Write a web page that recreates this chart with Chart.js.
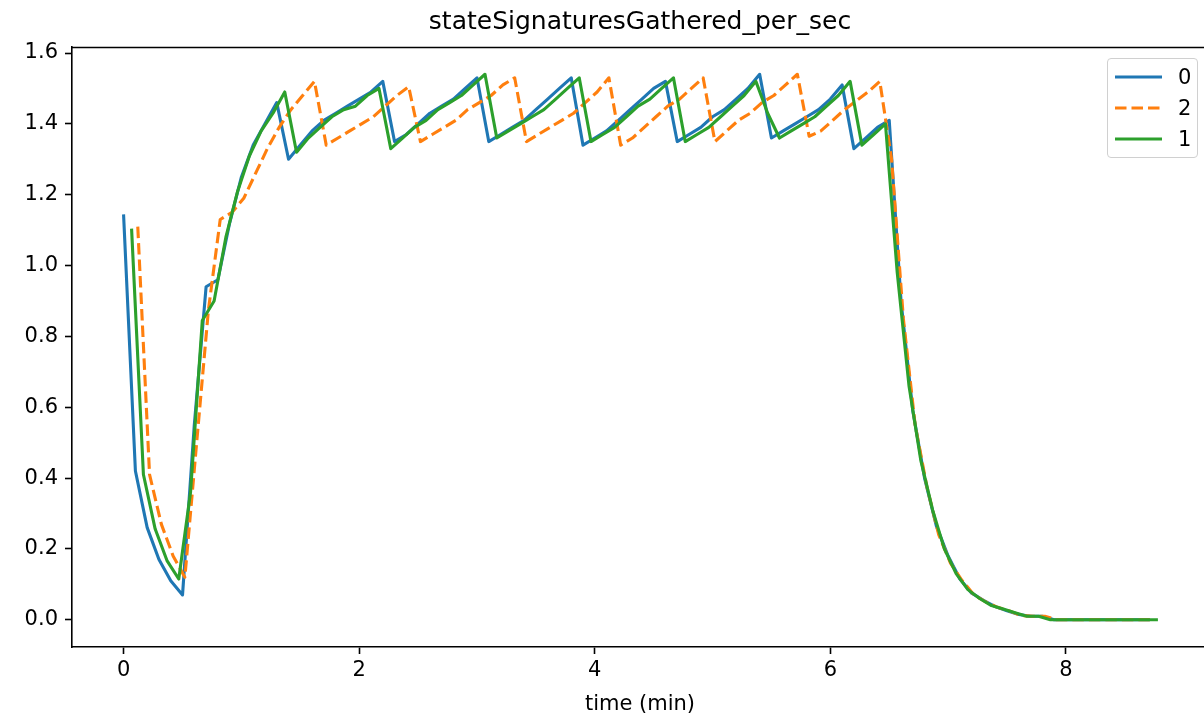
<!DOCTYPE html>
<html>
<head>
<meta charset="utf-8">
<script src="https://cdn.jsdelivr.net/npm/chart.js@4.4.0/dist/chart.umd.min.js"></script>
<style>
  html, body { margin: 0; padding: 0; background: #fff; overflow: hidden; width: 1204px; height: 717px; }
  #wrap { position: relative; width: 1212px; height: 717px; }
  #legend { position: absolute; left: 1107px; top: 58px; width: 89px; height: 98px;
            border: 1.7px solid #d0d0d0; border-radius: 4px; background: rgba(255,255,255,0.8);
            font-family: "DejaVu Sans", sans-serif; font-size: 21px; color: #000; }
  .item { position: absolute; left: 6px; height: 24px; width: 80px; }
  .item svg { position: absolute; left: 0; top: 0; }
  .item span { position: absolute; left: 64px; top: 0; line-height: 24px; }
</style>
</head>
<body>
<div id="wrap">
  <canvas id="c" width="1212" height="717"></canvas>
  <div id="legend"></div>
</div>
<script>
// ---- data (minutes; values per second) ----
const chartTitle = "stateSignaturesGathered_per_sec";
const xAxisLabel = "time (min)";
const xTickValues = [0, 2, 4, 6, 8];
const yTickValues = [0.0, 0.2, 0.4, 0.6, 0.8, 1.0, 1.2, 1.4, 1.6];
const sampleStep = 0.1;            // minutes between samples
const seriesLabels = ["0", "2", "1"];
const seriesStart = [0.0, 0.12, 0.068]; // first sample time of each series (min)

const series0 = [1.14,0.42,0.26,0.17,0.11,0.07,0.55,0.94,0.96,1.12,
 1.25,1.34,1.40,1.46,1.30,1.34,1.38,1.41,1.43,1.45,
 1.47,1.49,1.52,1.35,1.37,1.40,1.43,1.45,1.47,1.50,
 1.53,1.35,1.37,1.39,1.41,1.44,1.47,1.50,1.53,1.34,
 1.36,1.38,1.41,1.44,1.47,1.50,1.52,1.35,1.37,1.39,
 1.42,1.44,1.47,1.50,1.54,1.36,1.38,1.40,1.42,1.44,
 1.47,1.51,1.33,1.36,1.39,1.41,0.90,0.59,0.40,0.265,
 0.18,0.115,0.075,0.055,0.037,0.025,0.015,0.01,0.01,0,
 0,0,0,0,0,0,0,0];

const series2 = [1.11,0.41,0.27,0.18,0.12,0.50,0.875,1.13,1.15,1.19,
 1.26,1.33,1.39,1.44,1.48,1.52,1.34,1.36,1.38,1.40,
 1.42,1.45,1.48,1.505,1.35,1.37,1.39,1.41,1.44,1.46,
 1.48,1.51,1.53,1.35,1.37,1.39,1.41,1.43,1.46,1.49,
 1.53,1.34,1.36,1.39,1.42,1.45,1.47,1.50,1.53,1.35,
 1.38,1.41,1.43,1.46,1.48,1.51,1.54,1.365,1.38,1.41,
 1.44,1.465,1.49,1.52,1.30,0.85,0.55,0.375,0.24,0.16,
 0.11,0.07,0.05,0.035,0.025,0.012,0.01,0.01,0,0,
 0,0,0,0,0,0,0];

const series1 = [1.10,0.41,0.256,0.167,0.115,0.36,0.845,0.90,1.08,1.21,
 1.31,1.38,1.43,1.49,1.32,1.36,1.39,1.42,1.44,1.45,
 1.48,1.50,1.33,1.36,1.39,1.41,1.44,1.46,1.48,1.51,
 1.54,1.36,1.38,1.40,1.42,1.44,1.47,1.50,1.53,1.35,
 1.37,1.39,1.42,1.45,1.47,1.50,1.53,1.35,1.37,1.39,
 1.42,1.45,1.48,1.52,1.43,1.36,1.38,1.40,1.42,1.45,
 1.48,1.52,1.34,1.37,1.40,0.98,0.66,0.45,0.31,0.20,
 0.13,0.085,0.06,0.04,0.03,0.02,0.01,0.01,0,0,
 0,0,0,0,0,0,0,0];

const seriesValues = [series0, series2, series1];
const seriesColors = ["#1f77b4", "#ff7f0e", "#2ca02c"];
const seriesDash = [[], [11.5, 5], []];

// ---- build ----
const FONT = "DejaVu Sans";
const LW = 3.1;
const toPoints = (vals, start) => vals.map((v, i) => ({ x: start + i * sampleStep, y: v }));

const datasets = seriesValues.map((vals, s) => ({
  label: seriesLabels[s],
  data: toPoints(vals, seriesStart[s]),
  borderColor: seriesColors[s],
  backgroundColor: seriesColors[s],
  borderWidth: LW,
  borderDash: seriesDash[s],
  borderJoinStyle: 'round',
  borderCapStyle: seriesDash[s].length ? 'butt' : 'square',
  pointRadius: 0,
  tension: 0,
  fill: false,
  order: seriesValues.length - s   // later series drawn on top, like matplotlib
}));

const allX = datasets.flatMap(d => d.data.map(p => p.x));
const allY = datasets.flatMap(d => d.data.map(p => p.y));
const xMinD = Math.min(...allX), xMaxD = Math.max(...allX);
const yMinD = Math.min(...allY), yMaxD = Math.max(...allY);
const xm = 0.05 * (xMaxD - xMinD), ym = 0.05 * (yMaxD - yMinD);

const framePlugin = {
  id: 'frame',
  afterDraw(chart) {
    const { ctx, chartArea: a } = chart;
    ctx.save();
    ctx.strokeStyle = '#000';
    ctx.lineWidth = 1.6;
    ctx.beginPath();
    ctx.moveTo(a.left, a.top + 0.5); ctx.lineTo(a.right, a.top + 0.5);
    ctx.moveTo(a.right, a.top); ctx.lineTo(a.right, a.bottom);
    ctx.stroke();
    ctx.fillStyle = '#000';
    ctx.font = `25px "${FONT}"`;
    ctx.textAlign = 'center';
    ctx.textBaseline = 'middle';
    ctx.fillText(chartTitle, (a.left + a.right) / 2, 22);
    ctx.restore();
  }
};

const tickFont = { family: FONT, size: 21 };

const chart = new Chart(document.getElementById('c'), {
  type: 'line',
  data: { datasets },
  plugins: [framePlugin],
  options: {
    responsive: false,
    animation: false,
    events: [],
    layout: { padding: { left: 0, right: 4, top: 47, bottom: 0 } },
    plugins: { legend: { display: false }, title: { display: false }, tooltip: { enabled: false } },
    scales: {
      x: {
        type: 'linear',
        min: xMinD - xm, max: xMaxD + xm,
        afterBuildTicks: s => { s.ticks = xTickValues.map(v => ({ value: v })); },
        ticks: { font: tickFont, color: '#000', padding: 4, maxRotation: 0, autoSkip: false,
                 callback: v => String(v) },
        grid: { display: true, drawOnChartArea: false, drawTicks: true, tickLength: 7, tickWidth: 1.6, tickColor: '#000' },
        border: { display: true, color: '#000', width: 1.6 },
        title: { display: true, text: xAxisLabel, font: { family: FONT, size: 21 }, color: '#000', padding: { top: 0, bottom: 0 } },
        afterFit: s => { s.height = 70; }
      },
      y: {
        type: 'linear',
        min: yMinD - ym, max: yMaxD + ym,
        afterBuildTicks: s => { s.ticks = yTickValues.map(v => ({ value: v })); },
        ticks: { font: tickFont, color: '#000', padding: 7, autoSkip: false,
                 callback: v => Number(v).toFixed(1) },
        grid: { display: true, drawOnChartArea: false, drawTicks: true, tickLength: 7, tickWidth: 1.6, tickColor: '#000' },
        border: { display: true, color: '#000', width: 1.6 },
        afterFit: s => { s.width = 72; }
      }
    }
  }
});

// ---- legend (HTML, built from the datasets) ----
const legend = document.getElementById('legend');
datasets.forEach((d, i) => {
  const item = document.createElement('div');
  item.className = 'item';
  item.style.top = (6 + i * 31) + 'px';
  const dash = d.borderDash.length ? `stroke-dasharray="${d.borderDash.join(' ')}"` : '';
  item.innerHTML = `<svg width="50" height="24"><line x1="1" y1="12" x2="48" y2="12" stroke="${d.borderColor}" stroke-width="${LW}" ${dash}/></svg><span>${d.label}</span>`;
  legend.appendChild(item);
});
</script>
</body>
</html>
